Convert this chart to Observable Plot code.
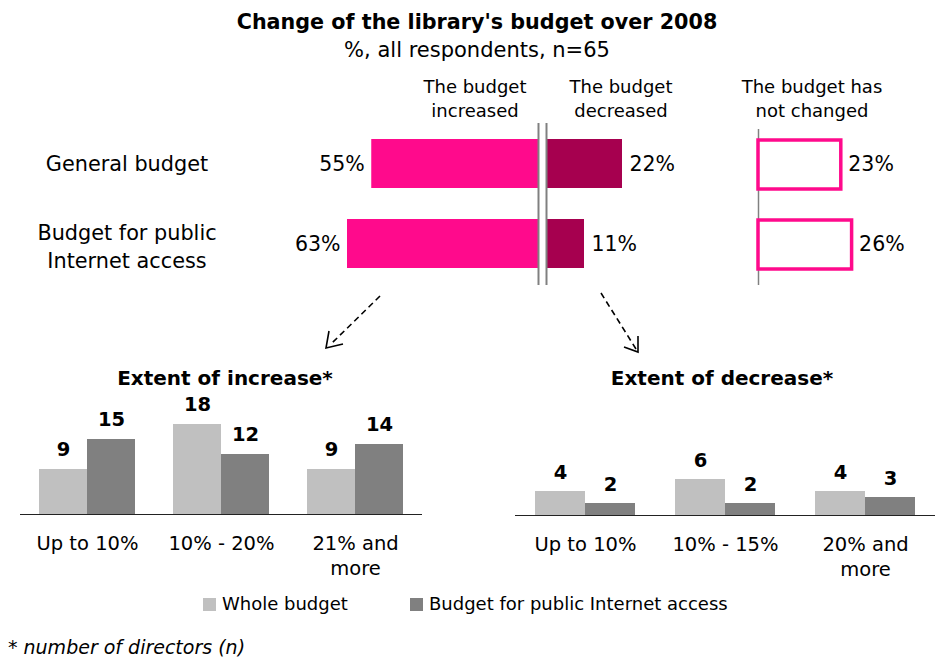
<!DOCTYPE html>
<html><head><meta charset="utf-8">
<script src="https://cdn.jsdelivr.net/npm/d3@7"></script>
<script src="https://cdn.jsdelivr.net/npm/@observablehq/plot@0.6"></script>
<style>
body{margin:0;background:#fff;}
#root{position:relative;width:937px;height:659px;font-family:"DejaVu Sans",Verdana,sans-serif;color:#000;overflow:hidden;background:#fff;}
.lbl{position:absolute;white-space:nowrap;text-align:center;transform:translate(-50%,-50%);font-size:18px;line-height:24px;}
.b{font-weight:bold;}
svg{overflow:visible;}
</style></head><body><div id="root"></div>
<script>
// ---------- data ----------
const rows = ["General budget", "Budget for public Internet access"];
const rowLabels = ["General budget", "Budget for public<br>Internet access"];
const increased = [55, 63];
const decreased = [22, 11];
const unchanged = [23, 26];

const incCats = ["Up to 10%", "10% - 20%", "21% and more"];
const incCatLabels = ["Up to 10%", "10% - 20%", "21% and\nmore"];
const incWhole = [9, 18, 9];
const incInternet = [15, 12, 14];

const decCats = ["Up to 10%", "10% - 15%", "20% and more"];
const decCatLabels = ["Up to 10%", "10% - 15%", "20% and\nmore"];
const decWhole = [4, 6, 4];
const decInternet = [2, 2, 3];

const seriesNames = ["Whole budget", "Budget for public Internet access"];

// ---------- style ----------
const PINK = "#FF0A8C", DARK = "#A6004F", LIGHT = "#C0C0C0", GREY = "#808080";
const FONT = "'DejaVu Sans', Verdana, sans-serif";
const root = document.getElementById("root");
function place(el, left, top) { el.style.position = "absolute"; el.style.left = left + "px"; el.style.top = top + "px"; root.append(el); }
function label(html, cx, cy, cls, size, lh) {
  const d = document.createElement("div"); d.className = "lbl " + (cls || ""); d.innerHTML = html;
  d.style.left = cx + "px"; d.style.top = cy + "px";
  if (size) d.style.fontSize = size + "px";
  if (lh) d.style.lineHeight = lh + "px";
  root.append(d); return d;
}

// ---------- titles ----------
label("Change of the library's budget over 2008", 477, 22, "b", 20.7);
label("%, all respondents, n=65", 477, 50, "", 21);
label("The budget<br>increased", 475, 99);
label("The budget<br>decreased", 621, 99);
label("The budget has<br>not changed", 812, 99);
label("Extent of increase*", 225, 378, "b", 20);
label("Extent of decrease*", 722, 378, "b", 20);

// ---------- top panel ----------
const TOP = 107;
const topData = rows.map((r, i) => ({row: r, inc: increased[i], dec: decreased[i], unch: unchanged[i]}));
const yTop = {domain: rows, paddingInner: 0.383, paddingOuter: 0.383, axis: null};
const base = {height: 193, marginTop: 0, marginBottom: 0, style: {fontFamily: FONT, fontSize: "20.5px", background: "transparent"}};
const VS = 20.5;

const incPlot = Plot.plot({...base, width: 310, marginLeft: 117, marginRight: 2,
  x: {domain: [0, 63], reverse: true, axis: null}, y: yTop,
  marks: [
    Plot.barX(topData, {x: "inc", y: "row", fill: PINK}),
    Plot.text(topData, {x: "inc", y: "row", text: d => d.inc + "%", textAnchor: "end", dx: -7, fontSize: VS, fill: "#000"}),
    Plot.ruleX([0], {stroke: GREY, strokeWidth: 2, insetTop: 16, insetBottom: 15})
  ]});
place(incPlot, 230, TOP);

// row labels positioned with the plot's own band scale
const ys = incPlot.scale("y");
rows.forEach((r, i) => label(rowLabels[i], 127, TOP + ys.apply(r) + ys.bandwidth / 2 + (i ? 3 : 0), "", 20.8, 28));

const decPlot = Plot.plot({...base, width: 150, marginLeft: 6, marginRight: 68,
  x: {domain: [0, 22], axis: null}, y: yTop,
  marks: [
    Plot.barX(topData, {x: "dec", y: "row", fill: DARK}),
    Plot.text(topData, {x: "dec", y: "row", text: d => d.dec + "%", textAnchor: "start", dx: 7, fontSize: VS, fill: "#000"}),
    Plot.ruleX([0], {stroke: GREY, strokeWidth: 2, insetTop: 16, insetBottom: 15})
  ]});
place(decPlot, 540, TOP);

const unPlot = Plot.plot({...base, width: 187, marginLeft: 8, marginRight: 85.4,
  x: {domain: [0, 26], axis: null}, y: yTop,
  marks: [
    Plot.ruleX([0], {stroke: GREY, strokeWidth: 1.5, insetTop: 22, insetBottom: 15}),
    Plot.barX(topData, {x: "unch", y: "row", fill: "#fff", stroke: PINK, strokeWidth: 3.5, insetTop: 1, insetBottom: -1}),
    Plot.text(topData, {x: "unch", y: "row", text: d => d.unch + "%", textAnchor: "start", dx: 7, fontSize: VS, fill: "#000"})
  ]});
place(unPlot, 750, TOP);

// ---------- arrows (decorative) ----------
const ns = "http://www.w3.org/2000/svg";
const arr = document.createElementNS(ns, "svg");
arr.setAttribute("width", 937); arr.setAttribute("height", 659);
arr.innerHTML = `<g fill="none" stroke="#000" stroke-width="1.6">
  <path d="M380,296 L330,345" stroke-dasharray="6,4"/>
  <path d="M329,331 L326,348 L343,344"/>
  <path d="M601,293 L636,349" stroke-dasharray="6,4"/>
  <path d="M624,347 L638,352 L638,336"/>
</g>`;
place(arr, 0, 0);
arr.style.pointerEvents = "none";

// ---------- bottom panels ----------
function groupedPlot(cats, catLabels, whole, internet, opts) {
  const data = cats.flatMap((c, i) => [
    {cat: c, series: seriesNames[0], v: whole[i]},
    {cat: c, series: seriesNames[1], v: internet[i]}
  ]);
  const labs = cats.map((c, i) => ({cat: c, label: catLabels[i]}));
  return Plot.plot({
    width: opts.width, height: 120 + 75, marginTop: 0, marginBottom: 75,
    marginLeft: opts.ml, marginRight: opts.mr,
    style: {fontFamily: FONT, fontSize: "19.5px", background: "transparent"},
    fx: {domain: cats, padding: 0, axis: null},
    x: {domain: seriesNames, paddingInner: 0, paddingOuter: opts.po, axis: null},
    y: {domain: [0, opts.ymax], axis: null},
    color: {domain: seriesNames, range: [LIGHT, GREY]},
    marks: [
      Plot.barY(data, {fx: "cat", x: "series", y: "v", fill: "series"}),
      Plot.text(data, {fx: "cat", x: "series", y: "v", text: "v", dy: opts.ldy, fontWeight: "bold", fontSize: 19.5, fill: "#000"}),
      Plot.ruleY([0], {stroke: "#222", strokeWidth: 1.2}),
      Plot.text(labs, {fx: "cat", text: "label", frameAnchor: "bottom", lineAnchor: "top", dy: 18, lineHeight: 1.28, fontSize: 19.5, fill: "#000"})
    ]
  });
}
place(groupedPlot(incCats, incCatLabels, incWhole, incInternet, {width: 440, ml: 20, mr: 18, po: 0.38, ymax: 24, ldy: -20}), 0, 394);
place(groupedPlot(decCats, decCatLabels, decWhole, decInternet, {width: 467, ml: 45, mr: 2, po: 0.386, ymax: 20, ldy: -19}), 470, 395);

// ---------- legend & footnote ----------
const leg = document.createElement("div");
leg.style.cssText = "position:absolute;left:0;top:592px;width:937px;height:24px;font-size:18px;";
const legX = [203, 410];
seriesNames.forEach((s, i) => {
  const sw = document.createElement("div");
  sw.style.cssText = `position:absolute;left:${legX[i]}px;top:6px;width:13px;height:13px;background:${[LIGHT, GREY][i]};`;
  const tx = document.createElement("div");
  tx.style.cssText = `position:absolute;left:${legX[i] + 19}px;top:0;white-space:nowrap;line-height:24px;`;
  tx.textContent = s;
  leg.append(sw, tx);
});
root.append(leg);

const foot = document.createElement("div");
foot.style.cssText = "position:absolute;left:8px;top:635px;font-size:19px;font-style:italic;white-space:nowrap;line-height:24px;";
foot.textContent = "* number of directors (n)";
root.append(foot);
</script></body></html>
